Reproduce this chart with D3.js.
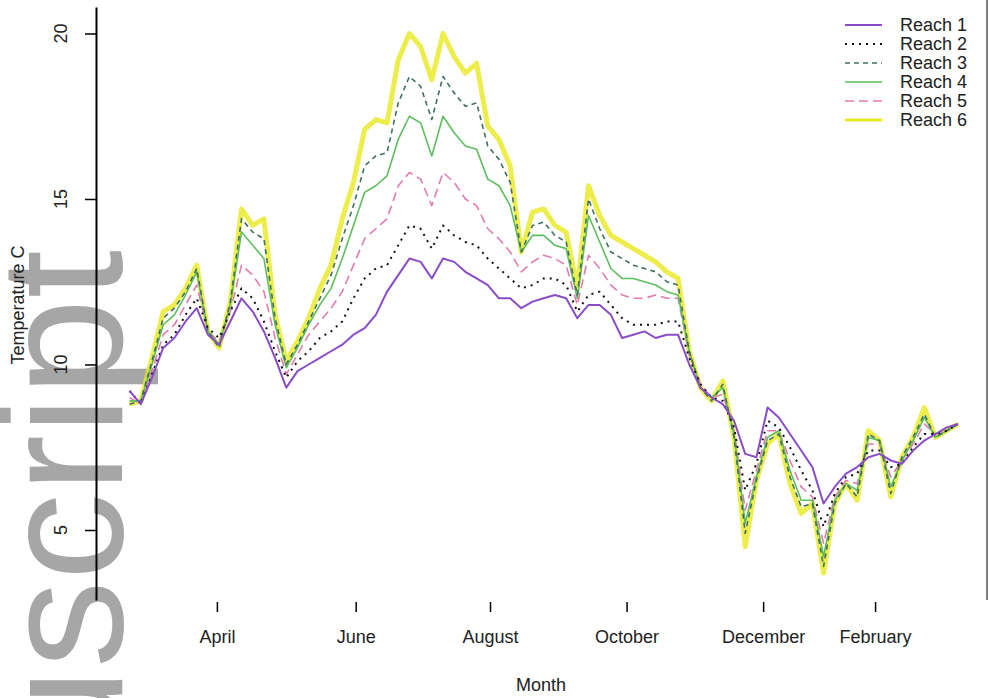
<!DOCTYPE html>
<html>
<head>
<meta charset="utf-8">
<script src="https://cdnjs.cloudflare.com/ajax/libs/d3/7.8.5/d3.min.js"></script>
<style>
  body { margin: 0; background: #fff; }
  svg { display: block; font-family: "Liberation Sans", Arial, sans-serif; }
</style>
</head>
<body>
<div id="chart"></div>
<script>
// month labels and the day (from first reading) where each tick sits
let monthLabels = ["April", "June", "August", "October", "December", "February"];
let monthDays = [39, 101, 161, 222, 283, 333];
let yTicks = [5, 10, 15, 20];

let reachNames = ["Reach 1", "Reach 2", "Reach 3", "Reach 4", "Reach 5", "Reach 6"];

// one reading every 5 days
let dayStep = 5;
let reach1 = [9.2, 8.8, 9.6, 10.5, 10.8, 11.3, 11.7, 10.9, 10.6, 11.3,
  12.0, 11.6, 11.0, 10.2, 9.3, 9.8, 10.0, 10.2, 10.4, 10.6,
  10.9, 11.1, 11.5, 12.2, 12.7, 13.2, 13.1, 12.6, 13.2, 13.1,
  12.8, 12.6, 12.4, 12.0, 12.0, 11.7, 11.9, 12.0, 12.1, 12.0,
  11.4, 11.8, 11.8, 11.5, 10.8, 10.9, 11.0, 10.8, 10.9, 10.9,
  10.0, 9.3, 9.0, 8.8, 8.3, 7.3, 7.2, 8.7, 8.4, 7.9,
  7.4, 6.9, 5.8, 6.3, 6.7, 6.9, 7.2, 7.3, 7.1, 7.0,
  7.4, 7.7, 7.9, 8.1, 8.2];
let reach2 = [9.2, 8.8, 9.7, 10.6, 10.9, 11.5, 12.0, 11.1, 10.8, 11.6,
  12.3, 12.0, 11.3, 10.4, 9.6, 10.1, 10.4, 10.8, 11.0, 11.3,
  12.0, 12.6, 12.9, 13.0, 13.6, 14.2, 14.1, 13.5, 14.2, 13.9,
  13.7, 13.6, 13.2, 12.9, 12.6, 12.3, 12.4, 12.6, 12.6, 12.4,
  11.6, 12.1, 12.2, 11.8, 11.4, 11.2, 11.2, 11.2, 11.3, 11.3,
  10.2, 9.4, 9.0, 8.9, 8.1, 6.2, 7.0, 8.3, 8.1, 7.5,
  6.8, 6.2, 5.1, 6.1, 6.6, 6.7, 7.4, 7.4, 6.9, 7.0,
  7.5, 7.9, 7.9, 8.0, 8.2];
let reach3 = [8.8, 8.9, 10.1, 11.4, 11.7, 12.2, 12.9, 11.0, 10.5, 11.9,
  14.4, 14.0, 13.8, 11.4, 10.0, 10.6, 11.3, 12.0, 12.7, 13.8,
  14.8, 16.0, 16.3, 16.4, 17.9, 18.7, 18.4, 17.4, 18.7, 18.2,
  17.8, 17.9, 16.6, 16.2, 15.5, 13.4, 14.2, 14.3, 13.9, 13.7,
  12.1, 15.0, 14.1, 13.4, 13.2, 13.0, 12.9, 12.8, 12.5, 12.4,
  10.4, 9.3, 8.9, 9.4, 7.8, 4.9, 6.5, 7.7, 7.9, 6.6,
  5.7, 5.8, 3.9, 5.8, 6.4, 6.0, 7.9, 7.7, 6.1, 7.2,
  7.8, 8.5, 7.8, 8.0, 8.2];
let reach4 = [8.9, 8.9, 10.0, 11.2, 11.5, 12.1, 12.8, 11.0, 10.6, 11.8,
  14.0, 13.6, 13.2, 11.2, 9.9, 10.5, 11.2, 11.8, 12.3, 13.2,
  14.2, 15.2, 15.4, 15.7, 16.8, 17.5, 17.3, 16.3, 17.5, 17.0,
  16.6, 16.5, 15.6, 15.4, 14.8, 13.4, 13.9, 13.9, 13.6, 13.5,
  12.0, 14.5, 13.7, 12.9, 12.6, 12.6, 12.5, 12.4, 12.2, 12.1,
  10.4, 9.3, 9.0, 9.3, 7.9, 5.2, 6.6, 7.8, 8.0, 6.8,
  5.9, 5.9, 4.2, 5.9, 6.4, 6.2, 7.8, 7.7, 6.3, 7.1,
  7.7, 8.4, 7.8, 8.0, 8.2];
let reach5 = [9.0, 8.8, 9.8, 10.9, 11.2, 11.8, 12.4, 11.0, 10.7, 11.6,
  13.0, 12.7, 12.2, 10.8, 9.7, 10.3, 10.9, 11.3, 11.7, 12.2,
  13.0, 13.8, 14.1, 14.4, 15.4, 15.8, 15.6, 14.8, 15.8, 15.5,
  15.0, 14.8, 14.1, 13.8, 13.4, 12.8, 13.1, 13.3, 13.2, 13.0,
  11.8, 13.3, 12.9, 12.4, 12.1, 12.0, 12.0, 12.1, 12.0, 12.0,
  10.3, 9.4, 9.0, 9.1, 8.0, 5.6, 6.8, 8.0, 8.0, 7.1,
  6.3, 6.0, 4.6, 6.0, 6.5, 6.4, 7.6, 7.6, 6.6, 7.1,
  7.6, 8.2, 7.9, 8.0, 8.2];
let reach6 = [8.8, 8.9, 10.2, 11.6, 11.8, 12.3, 13.0, 11.0, 10.5, 11.9,
  14.7, 14.2, 14.4, 11.5, 10.1, 10.7, 11.4, 12.3, 13.0, 14.4,
  15.5, 17.1, 17.4, 17.3, 19.2, 20.0, 19.6, 18.6, 20.0, 19.3,
  18.8, 19.1, 17.2, 16.8, 16.0, 13.4, 14.6, 14.7, 14.2, 14.0,
  12.3, 15.4, 14.5, 13.9, 13.7, 13.5, 13.3, 13.1, 12.8, 12.6,
  10.4, 9.3, 8.9, 9.5, 7.8, 4.5, 6.5, 7.6, 7.9, 6.4,
  5.5, 5.8, 3.7, 5.8, 6.4, 5.9, 8.0, 7.7, 6.0, 7.2,
  7.8, 8.7, 7.8, 8.0, 8.2];

let width = 989, height = 698;

// line styles for each reach (legend order)
let styles = [
  {color: "#8a4cc8", w: 2,   dash: null},
  {color: "#111111", w: 2,   dash: "2,5"},
  {color: "#3f6f63", w: 1.6, dash: "5,4"},
  {color: "#5cbf5c", w: 1.6, dash: null},
  {color: "#e27bb0", w: 1.6, dash: "9,5"},
  {color: "#e9e91e", w: 5,   dash: null}
];
let series = [reach1, reach2, reach3, reach4, reach5, reach6];

let svg = d3.select("#chart").append("svg")
  .attr("width", width)
  .attr("height", height);

// scales (plot region 96..987 x 7..600)
let x = d3.scaleLinear().domain([-15, 383]).range([96, 987]);
let y = d3.scaleLinear().domain([2.885, 20.8]).range([600, 7]);

// grey "Manuscript" margin stamp, only the tail shows
svg.append("text")
  .attr("transform", "translate(122,250) rotate(-90)")
  .attr("text-anchor", "end")
  .attr("font-size", 175)
  .attr("fill", "#a6a6a6")
  .text("Manuscript");

// lines, warmest first so the thin ones sit on top
let line = d3.line()
  .x((d, i) => x(i * dayStep))
  .y(d => y(d));

let linesG = svg.append("g");
for (let k = series.length - 1; k >= 0; k--) {
  linesG.append("path")
    .datum(series[k])
    .attr("fill", "none")
    .attr("stroke", styles[k].color)
    .attr("stroke-width", styles[k].w)
    .attr("stroke-dasharray", styles[k].dash)
    .attr("stroke-opacity", k == 5 ? 0.8 : 1)
    .attr("stroke-linejoin", "round")
    .attr("d", line);
}

// y axis
let yAxis = d3.axisLeft(y).tickValues(yTicks).tickSize(11).tickSizeOuter(0).tickFormat("");
let yG = svg.append("g").attr("transform", "translate(96,0)").call(yAxis);
yG.select(".domain").attr("stroke-width", 2);
yG.selectAll(".tick line").attr("stroke-width", 1.5);

svg.append("g").selectAll("text")
  .data(yTicks)
  .join("text")
  .attr("transform", d => "translate(67," + y(d) + ") rotate(-90)")
  .attr("text-anchor", "middle")
  .attr("font-size", 18)
  .attr("fill", "#222")
  .text(d => d);

// right frame edge
svg.append("line")
  .attr("x1", 987).attr("x2", 987)
  .attr("y1", 0).attr("y2", 600)
  .attr("stroke", "#555")
  .attr("stroke-width", 1.5);

// x axis: ticks + month names, no line
let xAxis = d3.axisBottom(x)
  .tickValues(monthDays)
  .tickFormat((d, i) => monthLabels[i])
  .tickSize(10)
  .tickPadding(18);
let xG = svg.append("g").attr("transform", "translate(0,602)").call(xAxis);
xG.select(".domain").remove();
xG.selectAll(".tick line").attr("stroke-width", 1.5);
xG.selectAll(".tick text")
  .attr("font-size", 18)
  .attr("font-family", "Liberation Sans, Arial, sans-serif")
  .attr("fill", "#222");

// axis titles
svg.append("text")
  .attr("x", 541).attr("y", 691)
  .attr("text-anchor", "middle")
  .attr("font-size", 18)
  .attr("fill", "#222")
  .text("Month");

svg.append("text")
  .attr("transform", "translate(24,305) rotate(-90)")
  .attr("text-anchor", "middle")
  .attr("font-size", 18)
  .attr("fill", "#222")
  .text("Temperature C");

// legend, top right, no box
let legend = svg.append("g").selectAll("g")
  .data(reachNames)
  .join("g")
  .attr("transform", (d, i) => "translate(0," + (25 + i * 19) + ")");

legend.append("line")
  .attr("x1", 845).attr("x2", 882)
  .attr("stroke", (d, i) => styles[i].color)
  .attr("stroke-width", (d, i) => Math.min(styles[i].w, 3))
  .attr("stroke-dasharray", (d, i) => styles[i].dash);

legend.append("text")
  .attr("x", 900)
  .attr("dy", "0.35em")
  .attr("font-size", 18)
  .attr("fill", "#222")
  .text(d => d);
</script>
</body>
</html>
